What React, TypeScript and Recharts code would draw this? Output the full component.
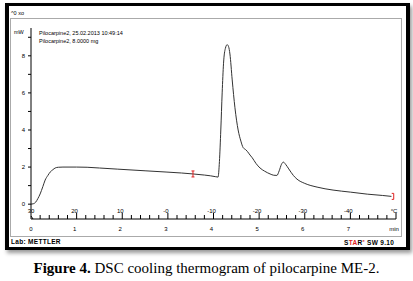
import React from 'react';
import { LineChart, Line, XAxis, YAxis, ReferenceDot } from 'recharts';

// DSC cooling curve, time in min, heat flow in mW
const timeMin = [
  0, 0.05, 0.1, 0.15, 0.2, 0.26, 0.31, 0.37, 0.42, 0.48, 0.53, 0.6, 0.7, 1.0, 1.23, 1.5, 1.89, 2.5, 2.98, 3.3,
  3.55, 3.8, 3.93, 4.05, 4.1, 4.13, 4.16, 4.19, 4.22, 4.26, 4.3, 4.33, 4.36, 4.41, 4.47, 4.54, 4.6, 4.65, 4.7,
  4.74, 4.8, 4.85, 4.93, 5.02, 5.12, 5.24, 5.32, 5.39, 5.44, 5.49, 5.53, 5.58, 5.65, 5.75, 5.83, 6.0, 6.27,
  6.62, 7.0, 7.37, 7.7, 7.9,
];
const heatFlow = [
  0, 0.02, 0.1, 0.3, 0.55, 0.95, 1.3, 1.55, 1.73, 1.86, 1.95, 1.99, 2.0, 2.0, 1.99, 1.95, 1.89, 1.8, 1.73, 1.68,
  1.63, 1.57, 1.53, 1.48, 1.46, 2.3, 4.0, 6.0, 7.6, 8.4, 8.6, 8.5, 8.1, 6.7, 5.2, 4.0, 3.4, 3.05, 2.95,
  2.85, 2.65, 2.5, 2.2, 1.95, 1.78, 1.63, 1.56, 1.55, 1.8, 2.15, 2.27, 2.15, 1.9, 1.55, 1.35, 1.12, 0.92,
  0.76, 0.65, 0.54, 0.47, 0.42,
];

const timeLabels = ['0', '1', '2', '3', '4', '5', '6', '7', 'min'];
const tempLabels = ['30', '20', '10', '-0', '-10', '-20', '-30', '-40', '°C'];
const yTicks = [0, 1, 2, 3, 4, 5, 6, 7, 8, 9];
const xTicks = Array.from({ length: 41 }, (_, i) => i / 5);

// red evaluation marks on the curve
const startMark = { t: 3.55, v: 1.63 };
const endMark = { t: 7.95, v: 0.42 };

const data = timeMin.map((t, i) => ({ t, v: heatFlow[i] }));

const small = { fontFamily: 'Liberation Sans, Arial, sans-serif', fontSize: 6 };

const TimeTick = (props: any) => {
  const { x, y, payload } = props;
  const val = payload.value;
  const idx = Math.round(val);
  const major = Math.abs(val - idx) < 1e-6;
  if (val === 0) {
    return (
      <g>
        <line x1={x} y1={y - 3} x2={x + 2} y2={y} stroke="#000" />
        <text x={x} y={y + 12} textAnchor="middle" {...small} fill="#000">{timeLabels[0]}</text>
        <text x={x} y={y - 6} textAnchor="middle" {...small} fill="#000">{tempLabels[0]}</text>
      </g>
    );
  }
  return (
    <g>
      <line x1={x} y1={y} x2={x} y2={y - (major ? 6 : 4)} stroke="#000" />
      {major && (
        <text x={x - 2} y={y + 12} textAnchor="middle" {...small} fill="#000">{timeLabels[idx]}</text>
      )}
      {major && (
        <text x={x - 2} y={y - 6} textAnchor="middle" {...small} fill="#000">{tempLabels[idx]}</text>
      )}
    </g>
  );
};

const StartMark = (props: any) => {
  const { cx, cy } = props;
  return (
    <g stroke="#e02020" strokeWidth={1}>
      <line x1={cx} y1={cy - 3} x2={cx} y2={cy + 3} />
      <line x1={cx - 1.5} y1={cy - 3} x2={cx + 1.5} y2={cy - 3} />
      <line x1={cx - 1.5} y1={cy + 3} x2={cx + 1.5} y2={cy + 3} />
    </g>
  );
};

const EndMark = (props: any) => {
  const { cx, cy } = props;
  return (
    <g stroke="#e02020" strokeWidth={1}>
      <line x1={cx} y1={cy - 3} x2={cx} y2={cy + 3} />
      <line x1={cx - 2} y1={cy - 3} x2={cx} y2={cy - 3} />
      <line x1={cx - 2} y1={cy + 3} x2={cx} y2={cy + 3} />
    </g>
  );
};

export default function App() {
  return (
    <div style={{ position: 'absolute', left: 0, top: 0, width: 413, height: 281, background: '#fff', overflow: 'hidden' }}>
      {/* window frame */}
      <div
        style={{
          position: 'absolute', left: 5, top: 3, width: 397, height: 241,
          border: '3px solid #000', borderLeftWidth: 4, borderRightWidth: 4, boxShadow: '2px 3px 4px #999',
          background: '#fff',
        }}
      />
      <div style={{ position: 'absolute', left: 10, top: 18, width: 390, height: 217, border: '1px solid #aaa' }} />
      <div style={{ position: 'absolute', left: 11, top: 10, ...small, fontSize: 5.5, color: '#000' }}>^0 xo</div>
      <div style={{ position: 'absolute', left: 11, top: 238, ...small, fontSize: 6.5, fontWeight: 'bold', letterSpacing: 0.3 }}>
        Lab: METTLER
      </div>
      <div style={{ position: 'absolute', left: 344, top: 238, ...small, fontSize: 6.5, fontWeight: 'bold', letterSpacing: 0.3 }}>
        S<span style={{ color: '#e02020' }}>TA</span>R<sup style={{ color: '#e02020', fontSize: 4 }}>e</sup> SW 9.10
      </div>
      <div style={{ position: 'absolute', left: 14, top: 29, ...small, fontSize: 5.5 }}>mW</div>
      <div style={{ position: 'absolute', left: 39, top: 29, ...small, fontSize: 5.5, lineHeight: '8px' }}>
        Pilocarpine2, 25.02.2013 10:49:14
        <br />
        Pilocarpine2, 8.0000 mg
      </div>

      <div style={{ position: 'absolute', left: 0, top: 0 }}>
        <LineChart width={413} height={281} data={data} margin={{ top: 28, right: 17, left: 11, bottom: 32 }}>
          <XAxis
            dataKey="t"
            type="number"
            domain={[0, 8]}
            ticks={xTicks}
            interval={0}
            height={30}
            tickSize={0}
            tickMargin={0}
            tickLine={false}
            axisLine={{ stroke: '#000' }}
            tick={<TimeTick />}
          />
          <YAxis
            type="number"
            domain={[-0.8, 9.5]}
            ticks={yTicks}
            interval={0}
            width={20}
            tickSize={3}
            tickMargin={3}
            axisLine={{ stroke: '#000' }}
            tickLine={{ stroke: '#000' }}
            tick={{ ...small, fill: '#000' }}
            tickFormatter={(v: number) => (v % 2 === 0 ? String(v) : '')}
          />
          <Line
            type="monotone"
            dataKey="v"
            stroke="#333"
            strokeWidth={1}
            dot={false}
            isAnimationActive={false}
          />
          <ReferenceDot x={startMark.t} y={startMark.v} shape={<StartMark />} />
          <ReferenceDot x={endMark.t} y={endMark.v} shape={<EndMark />} />
        </LineChart>
      </div>

      <div
        style={{
          position: 'absolute', left: 0, top: 260, width: 413, textAlign: 'center',
          fontFamily: 'Liberation Serif, Times New Roman, serif', fontSize: 15, color: '#000',
        }}
      >
        <b>Figure 4.</b> DSC cooling thermogram of pilocarpine ME-2.
      </div>
    </div>
  );
}
